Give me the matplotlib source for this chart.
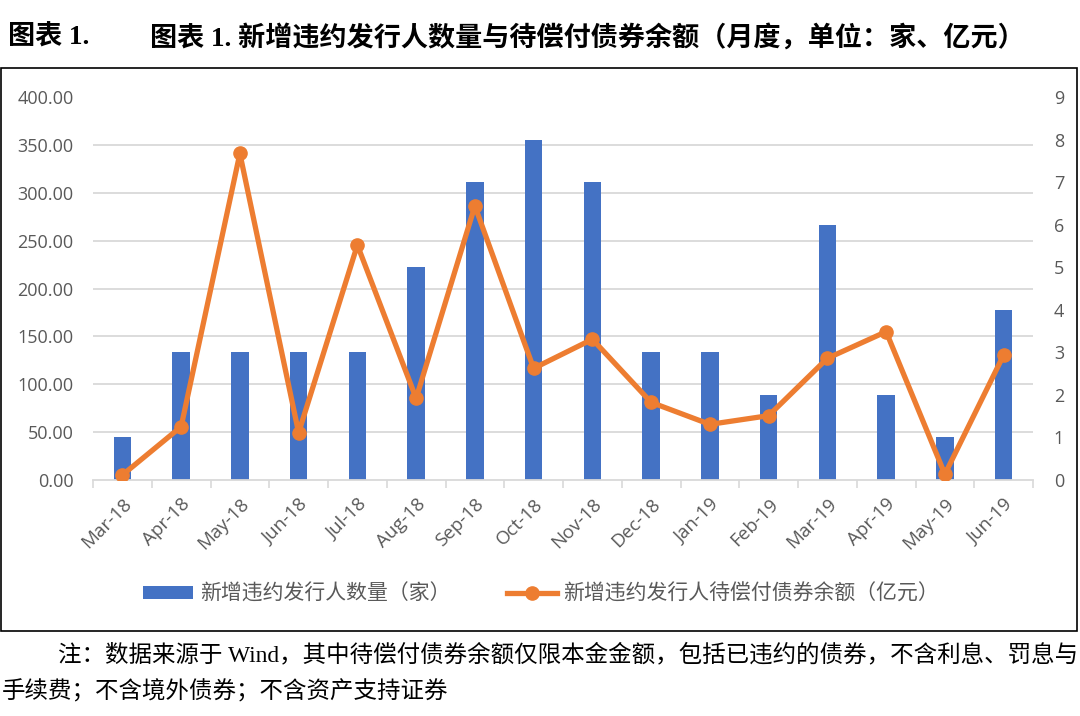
import numpy as np
import matplotlib.pyplot as plt
from matplotlib.ticker import FixedLocator, FuncFormatter
from matplotlib.patches import Rectangle

# monthly data
months = ['Mar-18', 'Apr-18', 'May-18', 'Jun-18', 'Jul-18', 'Aug-18', 'Sep-18', 'Oct-18',
          'Nov-18', 'Dec-18', 'Jan-19', 'Feb-19', 'Mar-19', 'Apr-19', 'May-19', 'Jun-19']
issuer_counts = [1, 3, 3, 3, 3, 5, 7, 8, 7, 3, 3, 2, 6, 2, 1, 4]
unpaid_balance = [5.2, 55.7, 341.0, 49.4, 245.4, 85.3, 286.2, 116.6,
                  147.0, 81.1, 58.1, 67.2, 127.1, 154.9, 6.0, 130.5]

bar_label = '新增违约发行人数量（家）'
line_label = '新增违约发行人待偿付债券余额（亿元）'
title_tag = '图表 1.'
title_text = '图表 1. 新增违约发行人数量与待偿付债券余额（月度，单位：家、亿元）'
note_line1 = '注：数据来源于 Wind，其中待偿付债券余额仅限本金金额，包括已违约的债券，不含利息、罚息与'
note_line2 = '手续费；不含境外债券；不含资产支持证券'

BLUE = '#4472C4'
ORANGE = '#ED7D31'
GRID = '#D9D9D9'
TICK = '#595959'

plt.rcParams['font.family'] = ['Open Sans', 'Noto Sans CJK SC', 'DejaVu Sans']
serif_cjk = ['Liberation Serif', 'Noto Sans CJK SC']

W, H = 1080, 716
fig = plt.figure(figsize=(W / 100, H / 100), dpi=100)
ax_bar = fig.add_axes([93 / W, 1 - 480 / H, (1033 - 93) / W, (480 - 97) / H])

x = np.arange(len(months))
bars = ax_bar.bar(x, issuer_counts, width=0.3, color=BLUE, label=bar_label, zorder=2)

ax_line = ax_bar.twinx()
line, = ax_line.plot(x, unpaid_balance, color=ORANGE, lw=3.8, marker='o', ms=9.5,
                     label=line_label)

# right axis: counts
ax_bar.yaxis.tick_right()
ax_bar.set_ylim(0, 9)
ax_bar.set_xlim(-0.5, len(months) - 0.5)
ax_bar.set_yticks(range(10))
# gridlines follow the left scale (8 steps) but sit behind the bars
ax_bar.yaxis.set_minor_locator(FixedLocator(np.linspace(0, 9, 9)))
ax_bar.grid(which='minor', axis='y', color=GRID, lw=1.3)
ax_bar.set_axisbelow(True)
ax_bar.tick_params(axis='y', which='both', length=0, pad=15, labelsize=13, labelcolor=TICK)

ax_bar.set_xticks(x)
ax_bar.set_xticklabels(months, rotation=45, ha='right', rotation_mode='anchor')
ax_bar.xaxis.set_minor_locator(FixedLocator(np.arange(-0.5, len(months), 1)))
ax_bar.tick_params(axis='x', which='major', length=0, pad=11, labelsize=13.5, labelcolor=TICK)
ax_bar.tick_params(axis='x', which='minor', length=6, width=1.2, color=GRID)

# left axis: balance
ax_line.yaxis.tick_left()
ax_line.set_ylim(0, 400)
ax_line.set_yticks(np.arange(0, 401, 50))
ax_line.yaxis.set_major_formatter(FuncFormatter(lambda v, p: f'{v:.2f}'))
ax_line.tick_params(axis='y', length=0, pad=14, labelsize=13, labelcolor=TICK)

for sp in ax_bar.spines.values():
    sp.set_visible(False)
for sp in ax_line.spines.values():
    sp.set_visible(False)
ax_bar.spines['bottom'].set_visible(True)
ax_bar.spines['bottom'].set_color(GRID)
ax_bar.spines['bottom'].set_linewidth(1.3)

fig.legend(handles=[bars, line], labels=[bar_label, line_label], loc='center',
           bbox_to_anchor=(541 / W, 1 - 594 / H), ncol=2, frameon=False,
           prop={'family': ['Noto Sans CJK SC'], 'size': 15}, labelcolor=TICK,
           handlelength=2.4, handleheight=0.6, handletextpad=0.3, columnspacing=2.7)

# title and notes
fig.text(8 / W, 1 - 38 / H, title_tag, family=serif_cjk, weight='bold', fontsize=19.5,
         va='center', ha='left')
fig.text(150 / W, 1 - 38 / H, title_text, family=serif_cjk, weight='bold', fontsize=19.5,
         va='center', ha='left')
fig.text(58 / W, 1 - 655 / H, note_line1, family=serif_cjk, fontsize=16.9, va='center', ha='left')
fig.text(2 / W, 1 - 692 / H, note_line2, family=serif_cjk, fontsize=16.9, va='center', ha='left')

fig.add_artist(Rectangle((1 / W, 1 - 631 / H), 1076 / W, (631 - 68) / H, transform=fig.transFigure,
                         fill=False, edgecolor='black', lw=1.2))

fig.savefig('out.png', dpi=100)
